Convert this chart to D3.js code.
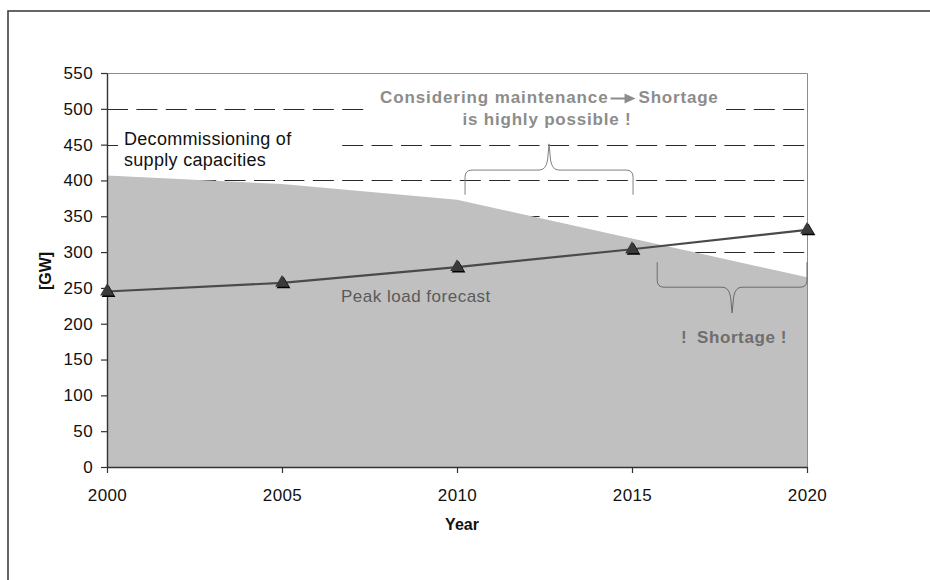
<!DOCTYPE html>
<html>
<head>
<meta charset="utf-8">
<script src="https://cdn.jsdelivr.net/npm/d3@7"></script>
<style>
  html, body { margin: 0; padding: 0; background: #fff; }
  svg { display: block; font-family: "Liberation Sans", Arial, sans-serif; }
</style>
</head>
<body>
<svg id="chart" width="930" height="580"></svg>
<script>
// Supply capacity vs. peak load forecast, in GW
const years = [2000, 2005, 2010, 2015, 2020];
const capacity = [407, 395, 373, 319, 265];
const peakLoad = [245, 257, 279, 304, 331];
const yTickValues = [0, 50, 100, 150, 200, 250, 300, 350, 400, 450, 500, 550];
const gridValues = [50, 100, 150, 200, 250, 300, 350, 400, 450, 500];
const yLabel = "[GW]";
const xLabel = "Year";

const svg = d3.select("#chart");
const plot = { left: 107, right: 807, top: 73, bottom: 467 };

const x = d3.scaleLinear().domain([2000, 2020]).range([plot.left, plot.right]);
const y = d3.scaleLinear().domain([0, 550]).range([plot.bottom, plot.top]);

// outer frame
svg.append("rect")
  .attr("x", 8).attr("y", 11).attr("width", 1000).attr("height", 1000)
  .attr("fill", "#fff").attr("stroke", "#404040").attr("stroke-width", 1.6);

// dashed gridlines (lie beneath the capacity area)
svg.append("g").selectAll("line").data(gridValues).join("line")
  .attr("x1", plot.left).attr("x2", plot.right)
  .attr("y1", d => Math.round(y(d)) + 0.5).attr("y2", d => Math.round(y(d)) + 0.5)
  .attr("stroke", "#2a2a2a").attr("stroke-width", 1.1)
  .attr("stroke-dasharray", "21,8.4");

// capacity area
const capData = years.map((yr, i) => ({ yr, v: capacity[i] }));
svg.append("path")
  .datum(capData)
  .attr("fill", "#c0c0c0")
  .attr("d", d3.area().x(d => x(d.yr)).y0(y(0)).y1(d => y(d.v)));

// white boxes behind annotation text
svg.append("rect").attr("x", 118).attr("y", 126).attr("width", 220).attr("height", 46).attr("fill", "#fff");
svg.append("rect").attr("x", 364).attr("y", 86).attr("width", 362).attr("height", 46).attr("fill", "#fff");

// plot border (top/right)
svg.append("path")
  .attr("d", `M${plot.left},${plot.top + 0.5}H${plot.right + 0.5}V${plot.bottom}`)
  .attr("fill", "none").attr("stroke", "#8c8c8c").attr("stroke-width", 1);

// axes
const yAxis = svg.append("g")
  .attr("transform", `translate(${plot.left},0)`)
  .call(d3.axisLeft(y).tickValues(yTickValues).tickSize(6).tickSizeOuter(0).tickPadding(8));
const xAxis = svg.append("g")
  .attr("transform", `translate(0,${plot.bottom})`)
  .call(d3.axisBottom(x).tickValues(years).tickFormat(d3.format("d")).tickSize(6).tickSizeOuter(0).tickPadding(16));
[yAxis, xAxis].forEach(g => {
  g.selectAll("path").attr("stroke", "#333").attr("stroke-width", 1.4);
  g.selectAll("line").attr("stroke", "#333").attr("stroke-width", 1.2);
  g.selectAll("text").attr("fill", "#111").attr("font-size", 17)
    .attr("font-family", "'Liberation Sans', Arial, sans-serif").style("letter-spacing", "0.4px");
});

// peak load line
const loadData = years.map((yr, i) => ({ yr, v: peakLoad[i] }));
svg.append("path")
  .datum(loadData)
  .attr("fill", "none").attr("stroke", "#4a4a4a").attr("stroke-width", 2.2)
  .attr("d", d3.line().x(d => x(d.yr)).y(d => y(d.v)));

// triangle markers with shadow
const tri = d3.symbol().type(d3.symbolTriangle).size(82);
svg.append("g").selectAll("path").data(loadData).join("path")
  .attr("transform", d => `translate(${x(d.yr) + 1.5},${y(d.v) + 1.5})`)
  .attr("d", tri).attr("fill", "#000");
svg.append("g").selectAll("path").data(loadData).join("path")
  .attr("transform", d => `translate(${x(d.yr)},${y(d.v)})`)
  .attr("d", tri).attr("fill", "#3a3a3a");

// axis titles
svg.append("text")
  .attr("x", 462).attr("y", 530).attr("text-anchor", "middle")
  .attr("font-size", 16).attr("font-weight", "bold").attr("fill", "#111")
  .text(xLabel);
svg.append("text")
  .attr("transform", "translate(51,271) rotate(-90)").attr("text-anchor", "middle")
  .attr("font-size", 16).attr("font-weight", "bold").attr("fill", "#111")
  .text(yLabel);

// annotations
const dec = svg.append("text").attr("font-size", 18).attr("fill", "#111").style("letter-spacing", "0.3px");
dec.append("tspan").attr("x", 124).attr("y", 145).text("Decommissioning of");
dec.append("tspan").attr("x", 124).attr("y", 166).text("supply capacities");

svg.append("text")
  .attr("x", 341).attr("y", 302).attr("font-size", 17).attr("fill", "#5a5a5a")
  .style("letter-spacing", "0.5px")
  .text("Peak load forecast");

const grayNote = "#8c8c8c";
const t1 = svg.append("text")
  .attr("x", 380).attr("y", 103).attr("font-size", 17).attr("font-weight", "bold")
  .attr("fill", grayNote).style("letter-spacing", "0.9px")
  .text("Considering maintenance");
const t1End = 380 + t1.node().getComputedTextLength() + 2;
const ay = 98.5;
svg.append("line")
  .attr("x1", t1End).attr("x2", t1End + 16).attr("y1", ay).attr("y2", ay)
  .attr("stroke", grayNote).attr("stroke-width", 2);
svg.append("path")
  .attr("d", `M${t1End + 14},${ay - 5}L${t1End + 25},${ay}L${t1End + 14},${ay + 5}Z`)
  .attr("fill", grayNote);
svg.append("text")
  .attr("x", t1End + 28).attr("y", 103).attr("font-size", 17).attr("font-weight", "bold")
  .attr("fill", grayNote).style("letter-spacing", "0.8px")
  .text("Shortage");
svg.append("text")
  .attr("x", 547).attr("y", 125).attr("text-anchor", "middle")
  .attr("font-size", 17).attr("font-weight", "bold")
  .attr("fill", grayNote).style("letter-spacing", "0.8px")
  .text("is highly possible !");

const shortColor = "#6e6e6e";
svg.append("text")
  .attr("x", 681).attr("y", 343).attr("font-size", 17).attr("font-weight", "bold")
  .attr("fill", shortColor).text("!");
svg.append("text")
  .attr("x", 697).attr("y", 343).attr("font-size", 17).attr("font-weight", "bold")
  .attr("fill", shortColor).style("letter-spacing", "0.6px").text("Shortage !");

// curly braces
function brace(x1, x2, yEnd, yBar, yTip) {
  const xm = (x1 + x2) / 2;
  const s = Math.sign(yTip - yBar); // direction of the tip
  const r = 7;
  return `M${x1},${yEnd}` +
    `L${x1},${yBar - s * r}Q${x1},${yBar} ${x1 + r},${yBar}` +
    `L${xm - 10},${yBar}Q${xm - 3},${yBar} ${xm - 1.5},${yBar + s * 10}L${xm},${yTip}` +
    `M${xm},${yTip}L${xm + 1.5},${yBar + s * 10}Q${xm + 3},${yBar} ${xm + 10},${yBar}` +
    `L${x2 - r},${yBar}Q${x2},${yBar} ${x2},${yBar - s * r}L${x2},${yEnd}`;
}
svg.append("path")
  .attr("d", brace(x(2010.23), x(2015.03), y(380), y(414.5), y(451)))
  .attr("fill", "none").attr("stroke", "#808080").attr("stroke-width", 1);
svg.append("path")
  .attr("d", brace(x(2015.72), x(2020), y(286), y(251), y(215)))
  .attr("fill", "none").attr("stroke", "#6a6a6a").attr("stroke-width", 1);
</script>
</body>
</html>
